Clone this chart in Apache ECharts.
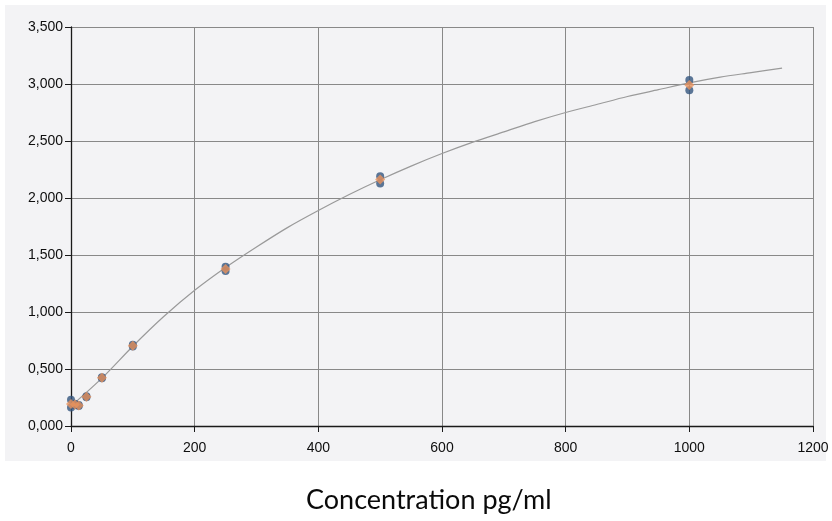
<!DOCTYPE html>
<html>
<head>
<meta charset="utf-8">
<script src="https://cdn.jsdelivr.net/npm/echarts@6/dist/echarts.min.js"></script>
<style>
  html, body { margin: 0; padding: 0; background: #ffffff; }
  #chart { width: 832px; height: 521px; }
</style>
</head>
<body>
<div id="chart"></div>
<script>
// Standard curve: optical density vs. concentration (pg/ml)
const concentrations = [0, 6.25, 12.5, 25, 50, 100, 250, 500, 1000];

// Replicate readings (blue circles)
const replicateA = [0.230, 0.195, 0.185, 0.262, 0.428, 0.712, 1.398, 2.190, 3.035];
const replicateB = [0.162, 0.183, 0.176, 0.252, 0.418, 0.698, 1.360, 2.128, 2.945];

// Mean readings (orange diamonds)
const meanValues = [0.192, 0.188, 0.180, 0.257, 0.423, 0.705, 1.378, 2.163, 2.992];

const curveX = [0, 50, 100, 150, 200, 250, 300, 350, 400, 450, 500, 550,
                600, 650, 700, 750, 800, 850, 900, 950, 1000, 1050, 1100, 1150];
const curveY = [0.175, 0.42, 0.70, 0.96, 1.19, 1.39, 1.57, 1.74, 1.89, 2.03, 2.16, 2.28,
                2.39, 2.49, 2.58, 2.67, 2.75, 2.82, 2.89, 2.95, 3.01, 3.06, 3.10, 3.14];

const xTicks = [0, 200, 400, 600, 800, 1000, 1200];
const yTicks = [0, 0.5, 1.0, 1.5, 2.0, 2.5, 3.0, 3.5];

const xAxisTitle = 'Concentration pg/ml';

const pairs = (xs, ys) => xs.map((x, i) => [x, ys[i]]);

const chart = echarts.init(document.getElementById('chart'), null, { renderer: 'canvas' });

chart.setOption({
  backgroundColor: '#ffffff',
  animation: false,
  graphic: [
    {
      type: 'rect',
      z: -10,
      shape: { x: 5, y: 5, width: 821, height: 456 },
      style: { fill: '#f3f3f5' },
      silent: true
    },
    {
      type: 'text',
      left: 306,
      top: 487,
      style: {
        text: xAxisTitle,
        font: '27px Lato',
        fill: '#0a0a0a'
      }
    }
  ],
  grid: { left: 71, right: 19, top: 27, bottom: 95, containLabel: false },
  xAxis: {
    type: 'value',
    min: xTicks[0],
    max: xTicks[xTicks.length - 1],
    interval: 200,
    axisLine: { show: true, onZero: false, lineStyle: { color: '#1a1a1a', width: 1.3 } },
    axisTick: { show: true, length: 6, lineStyle: { color: '#1a1a1a' } },
    axisLabel: {
      margin: 15,
      color: '#0e0e0e',
      fontFamily: 'Liberation Sans, Arial, sans-serif',
      fontSize: 14,
      formatter: v => String(v)
    },
    splitLine: { show: true, lineStyle: { color: '#888888', width: 1 } }
  },
  yAxis: {
    type: 'value',
    min: yTicks[0],
    max: yTicks[yTicks.length - 1],
    interval: 0.5,
    axisLine: { show: true, lineStyle: { color: '#1a1a1a', width: 1.3 } },
    axisTick: { show: true, length: 6, lineStyle: { color: '#1a1a1a' } },
    axisLabel: {
      margin: 8,
      color: '#0e0e0e',
      fontFamily: 'Liberation Sans, Arial, sans-serif',
      fontSize: 14,
      formatter: v => v.toFixed(3).replace('.', ',')
    },
    splitLine: { show: true, lineStyle: { color: '#888888', width: 1 } }
  },
  series: [
    {
      name: 'Fit',
      type: 'line',
      data: pairs(curveX, curveY),
      smooth: 0.3,
      showSymbol: false,
      lineStyle: { color: '#9a9a9a', width: 1.2 },
      z: 2
    },
    {
      name: 'Replicate A',
      type: 'scatter',
      data: pairs(concentrations, replicateA),
      symbol: 'circle',
      symbolSize: 8,
      itemStyle: { color: '#33557e' },
      z: 3
    },
    {
      name: 'Replicate B',
      type: 'scatter',
      data: pairs(concentrations, replicateB),
      symbol: 'circle',
      symbolSize: 8,
      itemStyle: { color: '#33557e' },
      z: 3
    },
    {
      name: 'Mean',
      type: 'scatter',
      data: pairs(concentrations, meanValues),
      symbol: 'diamond',
      symbolSize: 10,
      itemStyle: { color: '#e8925c' },
      z: 4
    }
  ]
});
</script>
</body>
</html>
